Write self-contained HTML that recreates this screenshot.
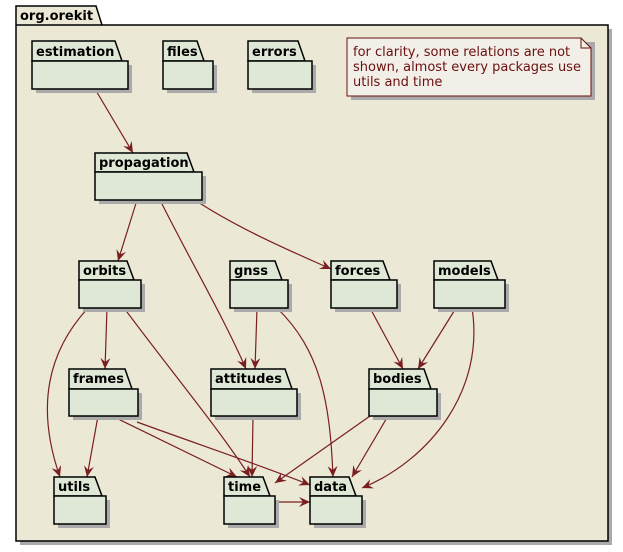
<!DOCTYPE html>
<html><head><meta charset="utf-8"><style>
html,body{margin:0;padding:0;background:#fff;}
svg text{font-family:"DejaVu Sans","Liberation Sans",sans-serif;}
.t{font-weight:bold;font-size:13px;fill:#000;}
</style></head><body>
<svg width="623" height="547" viewBox="0 0 623 547" xmlns="http://www.w3.org/2000/svg">
<defs>
<marker id="a" viewBox="0 0 12 10" refX="11" refY="5" markerWidth="12" markerHeight="10" markerUnits="userSpaceOnUse" orient="auto">
<path d="M0,0 L11,5 L0,10 L4,5 Z" fill="#7a1f1f"/>
</marker>
</defs>
<!-- outer package shadow -->
<rect x="20" y="29" width="592" height="516" fill="#aaa"/>
<polygon points="16,6 96,6 102,25 608,25 608,541 16,541" fill="#ebe8d6" stroke="#000" stroke-width="1.5"/>
<line x1="16" y1="25" x2="102" y2="25" stroke="#000" stroke-width="1.5"/>
<text class="t" x="20" y="20">org.orekit</text>

<g id="pk" stroke="#000" stroke-width="1.5">
</g>

<!-- note -->
<polygon points="351,42 595,42 595,100 351,100" fill="#aaa"/>
<polygon points="347,38 581,38 591,48 591,96 347,96" fill="#f2efe8" stroke="#6b1010" stroke-width="1"/>
<polyline points="581,38 581,48 591,48" fill="none" stroke="#6b1010" stroke-width="1"/>
<text x="353" y="56" font-size="13" fill="#6b1010">for clarity, some relations are not</text>
<text x="353" y="71" font-size="13" fill="#6b1010">shown, almost every packages use</text>
<text x="353" y="86" font-size="13" fill="#6b1010">utils and time</text>

<!-- edges -->
<g fill="none" stroke="#7a1f1f" stroke-width="1.2" marker-end="url(#a)">
<path d="M95,89 L133,153"/>
<path d="M137,200 L118,261"/>
<path d="M160,200 C190,260 225,320 246,369"/>
<path d="M195,200 C240,230 300,255 331,269"/>
<path d="M88,308 C40,360 40,420 60,477"/>
<path d="M107,308 L105,369"/>
<path d="M124,308 C170,370 220,430 250,477"/>
<path d="M257,308 L255,369"/>
<path d="M277,308 C320,350 330,400 333,477"/>
<path d="M370,308 L403,369"/>
<path d="M456,308 L418,369"/>
<path d="M472,308 C485,390 430,460 362,488"/>
<path d="M98,416 L87,477"/>
<path d="M112,416 L237,477"/>
<path d="M137,422 C200,445 260,465 310,485"/>
<path d="M253,416 L252,477"/>
<path d="M370,416 L275,483"/>
<path d="M388,416 L352,477"/>
<path d="M275,502 L310,502"/>
</g>

<g stroke="#000" stroke-width="1.5" fill="#dfe8d7">
<!-- estimation -->
<g><rect x="36" y="65" width="96" height="28" fill="#aaa" stroke="none"/><polygon points="32,41 115,41 122,61 32,61" /><rect x="32" y="61" width="96" height="28"/></g>
<g><rect x="167" y="65" width="50" height="28" fill="#aaa" stroke="none"/><polygon points="163,41 197,41 204,61 163,61"/><rect x="163" y="61" width="50" height="28"/></g>
<g><rect x="252" y="65" width="64" height="28" fill="#aaa" stroke="none"/><polygon points="248,41 298,41 305,61 248,61"/><rect x="248" y="61" width="64" height="28"/></g>
<g><rect x="99" y="176" width="107" height="28" fill="#aaa" stroke="none"/><polygon points="95,153 187,153 194,172 95,172"/><rect x="95" y="172" width="107" height="28"/></g>
<g><rect x="83" y="284" width="62" height="28" fill="#aaa" stroke="none"/><polygon points="79,261 127,261 134,280 79,280"/><rect x="79" y="280" width="62" height="28"/></g>
<g><rect x="234" y="284" width="58" height="28" fill="#aaa" stroke="none"/><polygon points="230,261 275,261 282,280 230,280"/><rect x="230" y="280" width="58" height="28"/></g>
<g><rect x="335" y="284" width="66" height="28" fill="#aaa" stroke="none"/><polygon points="331,261 383,261 390,280 331,280"/><rect x="331" y="280" width="66" height="28"/></g>
<g><rect x="438" y="284" width="71" height="28" fill="#aaa" stroke="none"/><polygon points="434,261 491,261 498,280 434,280"/><rect x="434" y="280" width="71" height="28"/></g>
<g><rect x="73" y="393" width="69" height="27" fill="#aaa" stroke="none"/><polygon points="69,369 125,369 132,389 69,389"/><rect x="69" y="389" width="69" height="27"/></g>
<g><rect x="215" y="393" width="86" height="27" fill="#aaa" stroke="none"/><polygon points="211,369 285,369 292,389 211,389"/><rect x="211" y="389" width="86" height="27"/></g>
<g><rect x="373" y="393" width="68" height="27" fill="#aaa" stroke="none"/><polygon points="369,369 424,369 431,389 369,389"/><rect x="369" y="389" width="68" height="27"/></g>
<g><rect x="58" y="500" width="52" height="28" fill="#aaa" stroke="none"/><polygon points="54,477 95,477 102,496 54,496"/><rect x="54" y="496" width="52" height="28"/></g>
<g><rect x="228" y="500" width="51" height="28" fill="#aaa" stroke="none"/><polygon points="224,477 263,477 270,496 224,496"/><rect x="224" y="496" width="51" height="28"/></g>
<g><rect x="314" y="500" width="52" height="28" fill="#aaa" stroke="none"/><polygon points="310,477 349,477 356,496 310,496"/><rect x="310" y="496" width="52" height="28"/></g>
</g>
<text class="t" x="36" y="56">estimation</text>
<text class="t" x="167" y="56">files</text>
<text class="t" x="252" y="56">errors</text>
<text class="t" x="99" y="167">propagation</text>
<text class="t" x="83" y="275">orbits</text>
<text class="t" x="234" y="275">gnss</text>
<text class="t" x="335" y="275">forces</text>
<text class="t" x="438" y="275">models</text>
<text class="t" x="73" y="383">frames</text>
<text class="t" x="215" y="383">attitudes</text>
<text class="t" x="373" y="383">bodies</text>
<text class="t" x="58" y="491">utils</text>
<text class="t" x="228" y="491">time</text>
<text class="t" x="314" y="491">data</text>
</svg>
</body></html>
